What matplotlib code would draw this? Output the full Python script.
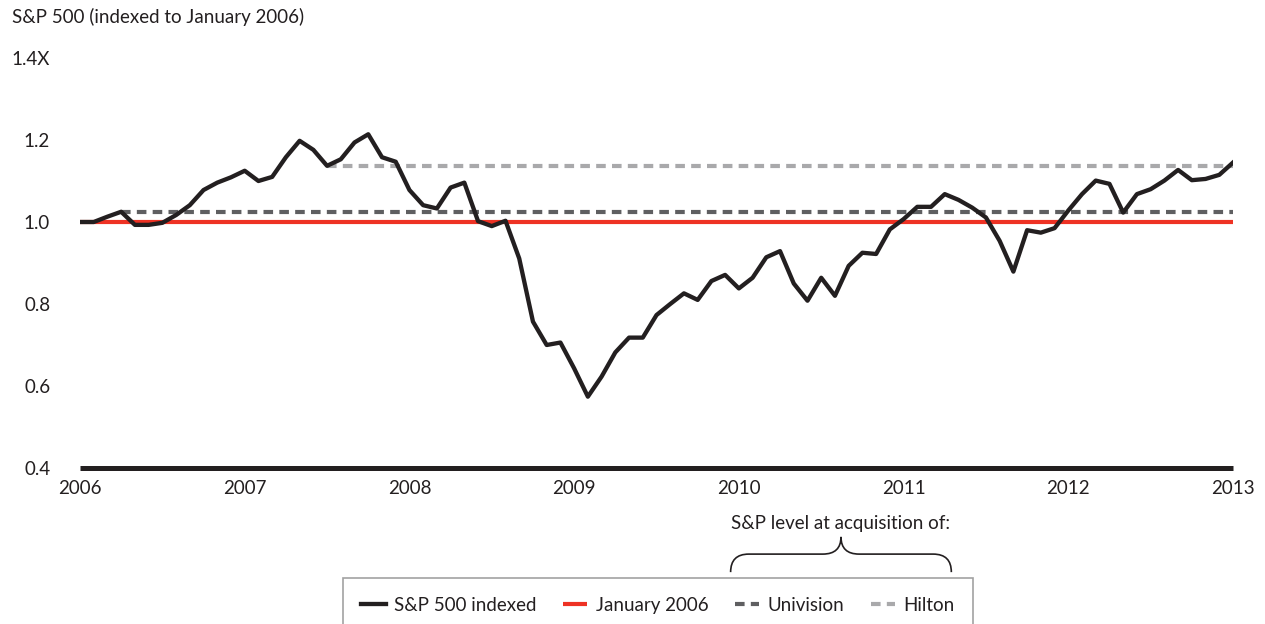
import numpy as np
import matplotlib.pyplot as plt
import matplotlib.transforms as mtransforms
from matplotlib.path import Path
from matplotlib.patches import PathPatch

plt.rcParams['font.family'] = ['Lato', 'DejaVu Sans']

# S&P 500 monthly level, indexed to Jan 2006 = 1.0 (Jan 2006 .. Jan 2013)
sp_2006 = [1.000, 1.000, 1.013, 1.025, 0.993, 0.993, 0.998, 1.017, 1.041, 1.078, 1.096, 1.109]
sp_2007 = [1.125, 1.100, 1.110, 1.158, 1.198, 1.176, 1.137, 1.153, 1.194, 1.214, 1.158, 1.147]
sp_2008 = [1.078, 1.041, 1.033, 1.084, 1.096, 1.002, 0.990, 1.003, 0.911, 0.757, 0.700, 0.706]
sp_2009 = [0.643, 0.574, 0.623, 0.682, 0.718, 0.718, 0.773, 0.800, 0.826, 0.810, 0.856, 0.871]
sp_2010 = [0.838, 0.864, 0.914, 0.929, 0.850, 0.808, 0.864, 0.820, 0.893, 0.925, 0.922, 0.982]
sp_2011 = [1.007, 1.037, 1.037, 1.068, 1.054, 1.035, 1.011, 0.954, 0.879, 0.980, 0.974, 0.985]
sp_2012 = [1.028, 1.068, 1.101, 1.093, 1.023, 1.068, 1.080, 1.101, 1.127, 1.102, 1.105, 1.115]
sp_2013 = [1.145]

sp = np.array(sp_2006 + sp_2007 + sp_2008 + sp_2009 + sp_2010 + sp_2011 + sp_2012 + sp_2013)
years = 2006 + np.arange(len(sp)) / 12

baseline = 1.0
univision_month = 3    # Apr 2006
hilton_month = 18      # Jul 2007

year_ticks = list(range(2006, 2014))
y_ticks = [0.4, 0.6, 0.8, 1.0, 1.2, 1.4]
y_labels = ['0.4', '0.6', '0.8', '1.0', '1.2', '1.4X']

BLACK = '#231f20'
RED = '#ee3224'
DARK_GREY = '#5f5f61'
LIGHT_GREY = '#a9a9ab'
FS = 13.5

fig = plt.figure(figsize=(12.65, 6.24), dpi=100)
ax = fig.add_axes([80 / 1265, 1 - 468 / 624, 1153 / 1265, 410 / 624])

ax.plot([years[0], years[-1]], [baseline, baseline], color=RED, lw=3, zorder=2,
        solid_capstyle='butt', label='January 2006')
ax.plot([years[univision_month], years[-1]], [sp[univision_month]] * 2, color=DARK_GREY,
        lw=3, dashes=(2.3, 1.5), zorder=2, label='Univision')
ax.plot([years[hilton_month], years[-1]], [sp[hilton_month]] * 2, color=LIGHT_GREY,
        lw=3, dashes=(2.3, 1.5), zorder=2, label='Hilton')
ax.plot(years, sp, color=BLACK, lw=3.1, zorder=4, label='S&P 500 indexed')

ax.set_xlim(2006, 2013)
ax.set_ylim(0.4, 1.4)
ax.set_xticks(year_ticks)
ax.set_xticklabels([str(y) for y in year_ticks], fontsize=FS, color=BLACK)
ax.set_yticks(y_ticks)
ax.set_yticklabels(y_labels, fontsize=FS, color=BLACK)
ax.tick_params(axis='both', length=0)
ax.tick_params(axis='y', pad=21.5)
ax.tick_params(axis='x', pad=9)
for side in ['left', 'top', 'right']:
    ax.spines[side].set_visible(False)
ax.spines['bottom'].set_linewidth(3.6)
ax.spines['bottom'].set_color(BLACK)
ax.spines['bottom'].set_capstyle('butt')

fig.text(12 / 1265, 1 - 17 / 624, 'S&P 500 (indexed to January 2006)', fontsize=FS,
         color=BLACK, ha='left', va='center')

# curly brace over the acquisition legend entries
trans = mtransforms.blended_transform_factory(ax.transData, ax.transAxes)
x0, x1 = 2009.95, 2011.29
xm = (x0 + x1) / 2
y_end, y_bar, y_tip = -0.254, -0.210, -0.168
r = 0.11
verts = [(x0, y_end), (x0, y_bar), (x0 + r, y_bar),
         (xm - r, y_bar), (xm, y_bar), (xm, y_tip),
         (xm, y_bar), (xm + r, y_bar),
         (x1 - r, y_bar), (x1, y_bar), (x1, y_end)]
codes = [Path.MOVETO, Path.CURVE3, Path.CURVE3,
         Path.LINETO, Path.CURVE3, Path.CURVE3,
         Path.CURVE3, Path.CURVE3,
         Path.LINETO, Path.CURVE3, Path.CURVE3]
brace = PathPatch(Path(verts, codes), transform=trans, fill=False, edgecolor=BLACK,
                  lw=1.2, clip_on=False)
ax.add_patch(brace)
ax.text(xm, -0.135, 'S&P level at acquisition of:', transform=trans, fontsize=FS,
        color=BLACK, ha='center', va='center')

handles, labels = ax.get_legend_handles_labels()
order = [3, 0, 1, 2]
leg = fig.legend([handles[i] for i in order], [labels[i] for i in order],
                 loc='upper center', bbox_to_anchor=(658 / 1265, 1 - 578 / 624),
                 ncol=4, fontsize=FS, frameon=True, fancybox=False,
                 handlelength=1.3, handletextpad=0.45, columnspacing=1.4,
                 borderpad=1.0, borderaxespad=0)
leg.get_frame().set_edgecolor('#8a8a8a')
leg.get_frame().set_linewidth(1.2)
for t in leg.get_texts():
    t.set_color(BLACK)

fig.savefig('out.png', dpi=100)
